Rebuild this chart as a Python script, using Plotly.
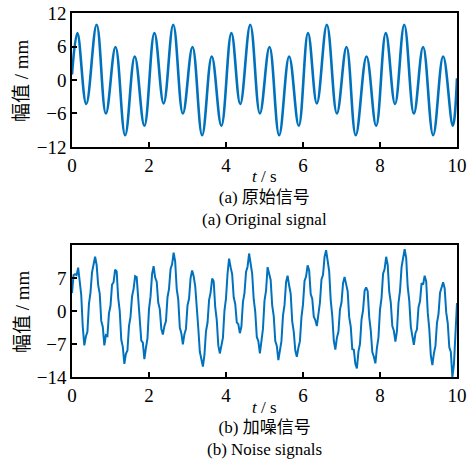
import numpy as np
import plotly.graph_objects as go
from plotly.subplots import make_subplots

# ---- (a) original signal: extrema (time s, amplitude mm)
t_clean = [0.00, 0.14, 0.37, 0.64, 0.88, 1.13, 1.38, 1.63, 1.88,
           2.14, 2.38, 2.63, 2.88, 3.13, 3.38, 3.63, 3.88,
           4.14, 4.37, 4.63, 4.88, 5.13, 5.38, 5.64, 5.89,
           6.13, 6.36, 6.62, 6.88, 7.13, 7.37, 7.65, 7.90,
           8.15, 8.39, 8.63, 8.88, 9.12, 9.38, 9.64, 9.89, 10.00]
y_clean = [1.0, 8.4, -4.3, 9.9, -6.0, 5.9, -9.9, 4.2, -8.2,
           8.4, -4.2, 9.9, -6.0, 5.9, -9.9, 4.2, -8.2,
           8.4, -4.3, 9.9, -6.0, 5.9, -9.9, 4.2, -8.2,
           8.4, -4.2, 9.9, -6.0, 5.9, -9.9, 4.2, -8.2,
           8.4, -4.3, 9.9, -6.0, 5.9, -9.9, 4.2, -8.2, 0.3]

dt_noise = 0.04
y_noise = [
    3.8, 7.6, 7.8, 7.6, 9.2, 6.8, 3.4, -3.4, -7.3, -5.4,
    -4.4, 1.5, 3.9, 8.2, 9.7, 11.5, 9.8, 5.5, 3.7, -2.1,
    -3.4, -7.3, -5.1, -5.3, -0.5, 1.1, 5.6, 6.1, 8.8, 8.4,
    2.8, 0.0, -6.1, -7.6, -11.2, -9.1, -8.4, -3.2, -1.2, 3.1,
    4.7, 7.4, 7.2, 2.1, -0.7, -6.3, -6.7, -10.2, -7.8, -5.8,
    0.4, 3.1, 7.8, 9.5, 7.1, 6.2, 1.8, 0.4, -3.8, -5.0,
    -3.2, -2.2, 2.9, 4.7, 8.9, 9.9, 12.4, 10.5, 4.7, 2.4,
    -3.5, -4.7, -7.1, -4.9, -3.8, 1.2, 2.6, 7.0, 8.6, 7.4,
    5.3, -0.5, -3.6, -8.6, -9.9, -11.8, -9.3, -4.3, -2.5, 2.3,
    3.9, 6.9, 6.3, 0.8, -1.9, -7.3, -9.0, -7.2, -5.7, 0.1,
    2.7, 7.9, 11.1, 9.3, 7.8, 2.9, 1.5, -2.4, -2.8, -4.7,
    -3.3, 1.9, 3.8, 8.3, 9.4, 12.2, 10.0, 7.9, 2.5, -0.2,
    -5.5, -6.4, -9.0, -5.9, -3.8, 2.2, 4.3, 9.3, 7.9, 6.6,
    1.2, -1.1, -6.4, -7.4, -10.4, -8.3, -6.4, -1.0, 1.3, 6.1,
    7.5, 5.4, 3.7, -2.2, -4.4, -8.4, -9.7, -7.8, -6.4, -1.3,
    1.4, 6.4, 7.3, 9.7, 8.6, 3.6, 2.6, -1.2, -1.9, -3.2,
    -0.2, 1.8, 6.7, 7.7, 11.5, 12.9, 10.7, 8.4, 2.3, -1.0,
    -6.3, -8.2, -5.7, -4.4, 0.3, 1.8, 5.9, 7.2, 5.7, 4.2,
    -1.3, -3.3, -8.1, -8.2, -11.2, -12.2, -8.6, -7.0, -1.8, 0.2,
    4.3, 5.0, 4.2, -1.3, -4.1, -8.7, -9.7, -11.1, -7.8, -5.6,
    0.3, 2.8, 7.9, 8.9, 11.5, 9.8, 4.1, 1.8, -3.2, -4.2,
    -6.5, -4.3, 1.7, 4.3, 9.3, 10.9, 13.1, 11.3, 5.1, 2.2,
    -3.3, -5.3, -7.2, -4.7, -3.9, 0.8, 2.1, 5.9, 5.6, 7.5,
    6.3, -0.3, -3.8, -9.4, -11.5, -9.0, -7.4, -2.5, -0.6, 3.9,
    4.8, 6.1, 4.8, -0.3, -2.6, -7.7, -8.7, -14.0, -11.4, -4.2, 1.7,
]
t_noise = np.round(np.arange(len(y_noise)) * dt_noise, 4)

x_ticks = [0, 2, 4, 6, 8, 10]
y_ticks_a = [-12, -6, 0, 6, 12]
y_ticks_b = [-14, -7, 0, 7]

BLUE = "#0072BD"
FONT = "Liberation Serif, Times New Roman, Noto Sans CJK SC, serif"
FS = 19
FS_CAP = 17

fig = make_subplots(rows=2, cols=1)
fig.add_trace(go.Scatter(x=t_clean, y=y_clean, mode="lines",
                         line=dict(color=BLUE, width=2.6, shape="spline", smoothing=1.1),
                         showlegend=False), row=1, col=1)
fig.add_trace(go.Scatter(x=t_noise, y=y_noise, mode="lines",
                         line=dict(color=BLUE, width=2.0),
                         showlegend=False), row=2, col=1)

ax_common = dict(showline=True, linecolor="black", linewidth=1.5, mirror=True,
                 ticks="inside", ticklen=5, tickwidth=1.5, tickcolor="black",
                 showgrid=False, zeroline=False, automargin=False,
                 tickfont=dict(family=FONT, size=FS, color="black"))

fig.update_xaxes(range=[0, 10], tickvals=x_ticks, **ax_common)
fig.update_yaxes(**ax_common)
fig.update_layout(
    xaxis=dict(domain=[0, 1]),
    xaxis2=dict(domain=[0, 1]),
    yaxis=dict(domain=[0.6319, 1], range=[-12, 12], tickvals=y_ticks_a),
    yaxis2=dict(domain=[0, 0.3626], range=[-14, 14], tickvals=y_ticks_b),
)

def py(pixel_y):
    # pixel row (from top of page) -> paper coordinate
    return (377 - pixel_y) / 364

anns = [
    ("<i>t</i> / s", 0.5, py(177), 0, FS_CAP),
    ("(a) 原始信号<br>(a) Original signal", 0.5, py(208), 0, FS_CAP),
    ("<i>t</i> / s", 0.5, py(407), 0, FS_CAP),
    ("(b) 加噪信号<br>(b) Noise signals", 0.5, py(438), 0, FS_CAP),
    ("幅值 / mm", -0.13, (0.6319 + 1) / 2, -90, FS),
    ("幅值 / mm", -0.13, 0.3626 / 2, -90, FS),
]
for text, x, y, ang, fs in anns:
    fig.add_annotation(text=text, x=x, y=y, xref="paper", yref="paper",
                       xanchor="center", yanchor="middle", showarrow=False,
                       textangle=ang, align="center",
                       font=dict(family=FONT, size=fs, color="black"))

fig.update_layout(width=469, height=466,
                  margin=dict(l=72, r=12, t=13, b=89),
                  paper_bgcolor="white", plot_bgcolor="white")

fig.write_html("out.html", config={"displayModeBar": False},
               post_script="document.body.style.margin='0';document.body.style.overflow='hidden';")
